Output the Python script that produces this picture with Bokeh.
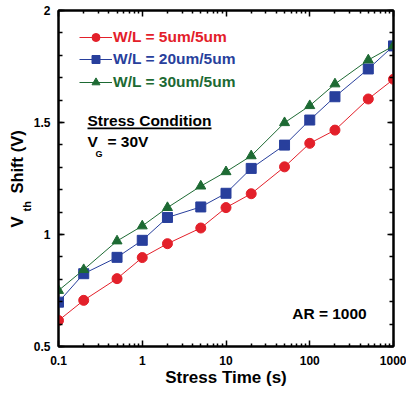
from bokeh.plotting import figure
from bokeh.models import (LogAxis, LinearAxis, FixedTicker, SingleIntervalTicker,
                          CustomJSTickFormatter, Legend, LegendItem, Label, BoxAnnotation, Title)
from bokeh.embed import file_html
from bokeh.resources import INLINE

# ---- data ----
stress_time = [0.1, 0.2, 0.5, 1, 2, 5, 10, 20, 50, 100, 200, 500, 1000]
wl_5um = [0.616, 0.706, 0.803, 0.897, 0.959, 1.029, 1.120, 1.182, 1.302, 1.407, 1.466, 1.605, 1.693]
wl_20um = [0.698, 0.825, 0.898, 0.974, 1.076, 1.123, 1.184, 1.295, 1.399, 1.511, 1.615, 1.739, 1.842]
wl_30um = [0.750, 0.843, 0.971, 1.038, 1.120, 1.216, 1.280, 1.351, 1.499, 1.575, 1.672, 1.779, 1.842]
series_labels = ["W/L = 5um/5um", "W/L = 20um/5um", "W/L = 30um/5um"]
x_major_ticks = [0.1, 1, 10, 100, 1000]
x_minor_ticks = [m * 10.0 ** e for e in range(-1, 3) for m in range(2, 10)]

FONT = "Liberation Sans"
RED = "#e3202a"
BLUE = "#283f9c"
GREEN = "#1d6a33"
NB = "\u00a0"

p = figure(width=406, height=393, x_axis_type="log", x_range=(0.1, 1000), y_range=(0.5, 2),
           output_backend="svg", toolbar_location=None,
           min_border_left=58, min_border_right=13, min_border_top=10, min_border_bottom=47)
p.xgrid.visible = False
p.ygrid.visible = False
p.outline_line_color = "black"
p.outline_line_width = 2
p.background_fill_color = "white"
p.border_fill_color = "white"

label_fmt = CustomJSTickFormatter(code="return tick.toString()")
empty_fmt = CustomJSTickFormatter(code="return ''")
xticker = FixedTicker(ticks=x_major_ticks, minor_ticks=x_minor_ticks)
yticker = SingleIntervalTicker(interval=0.5, num_minor_ticks=5)

top_axis = LogAxis(ticker=xticker, formatter=empty_fmt)
right_axis = LinearAxis(ticker=yticker, formatter=empty_fmt)
p.add_layout(top_axis, "above")
p.add_layout(right_axis, "right")

def style_axis(ax, minor_len):
    ax.axis_line_color = "black"
    ax.axis_line_width = 2
    ax.major_tick_in = 6
    ax.major_tick_out = 0
    ax.minor_tick_in = minor_len
    ax.minor_tick_out = 0
    ax.major_tick_line_width = 1.5
    ax.minor_tick_line_width = 1.5
    ax.major_tick_line_color = "black"
    ax.minor_tick_line_color = "black"
    ax.major_label_text_font = FONT
    ax.major_label_text_font_style = "bold"
    ax.major_label_text_font_size = "12px"
    ax.major_label_text_color = "black"

bottom_axis = p.below[0]
left_axis = p.left[0]
bottom_axis.ticker = xticker
bottom_axis.formatter = label_fmt
left_axis.ticker = yticker
left_axis.formatter = label_fmt
for ax in (bottom_axis, top_axis):
    style_axis(ax, 3)
for ax in (left_axis, right_axis):
    style_axis(ax, 4)
for ax in (top_axis, right_axis):
    ax.major_label_text_font_size = "0px"
    ax.major_label_standoff = 0
bottom_axis.major_label_standoff = 9
left_axis.major_label_standoff = 8
left_axis.major_label_text_baseline = "top"

# x axis title
bottom_axis.axis_label = "Stress Time (s)"
bottom_axis.axis_label_standoff = 0
bottom_axis.axis_label_text_font = FONT
bottom_axis.axis_label_text_font_style = "bold"
bottom_axis.axis_label_text_font_size = "17px"
bottom_axis.axis_label_text_color = "black"

# y axis title: V (subscript th) Shift (V)
th_title = Title(text="th", align="left", offset=135, vertical_align="bottom", standoff=-4,
                 text_font=FONT, text_font_style="bold", text_font_size="11px", text_color="black")
main_title = Title(text="V" + NB * 5 + "Shift (V)", align="left", offset=119,
                   vertical_align="bottom", standoff=-11, text_font=FONT,
                   text_font_style="bold", text_font_size="16.5px", text_color="black")
p.add_layout(th_title, "left")
p.add_layout(main_title, "left")

# ---- series ----
specs = [
    (wl_5um, RED, "circle", 10, series_labels[0], 299),
    (wl_20um, BLUE, "square", 10, series_labels[1], 276.7),
    (wl_30um, GREEN, "triangle", 10, series_labels[2], 254),
]
for vals, col, marker, size, lbl, ly in specs:
    lr = p.line(stress_time, vals, line_color=col, line_width=1)
    sr = p.scatter(stress_time, vals, marker=marker, size=size, fill_color=col, line_color=col)
    lg = Legend(items=[LegendItem(label=lbl, renderers=[lr, sr])], location=(21, ly),
                padding=0, margin=0, spacing=0, glyph_width=33, glyph_height=20,
                label_height=20, label_standoff=1, label_text_font=FONT,
                label_text_font_style="bold", label_text_font_size="15.5px",
                label_text_color=col, border_line_color=None, background_fill_alpha=0)
    p.add_layout(lg)

def lab(text, x, y, size):
    p.add_layout(Label(x=x, y=y, x_units="screen", y_units="screen", text=text,
                       text_align="left", text_baseline="middle", text_font=FONT,
                       text_font_style="bold", text_font_size=size, text_color="black"))

# annotations inside frame
lab("Stress Condition", 29, 226, "15.5px")
p.add_layout(BoxAnnotation(left=29, right=153, bottom=217.2, top=218.9,
                           left_units="screen", right_units="screen",
                           bottom_units="screen", top_units="screen",
                           fill_color="black", fill_alpha=1, line_color=None))
lab("V", 29, 205, "15.5px")
lab("G", 37, 193, "9px")
lab("= 30V", 49, 205, "15.5px")
lab("AR = 1000", 233.7, 32.7, "15.5px")

open("out.html", "w").write(file_html(p, INLINE))
